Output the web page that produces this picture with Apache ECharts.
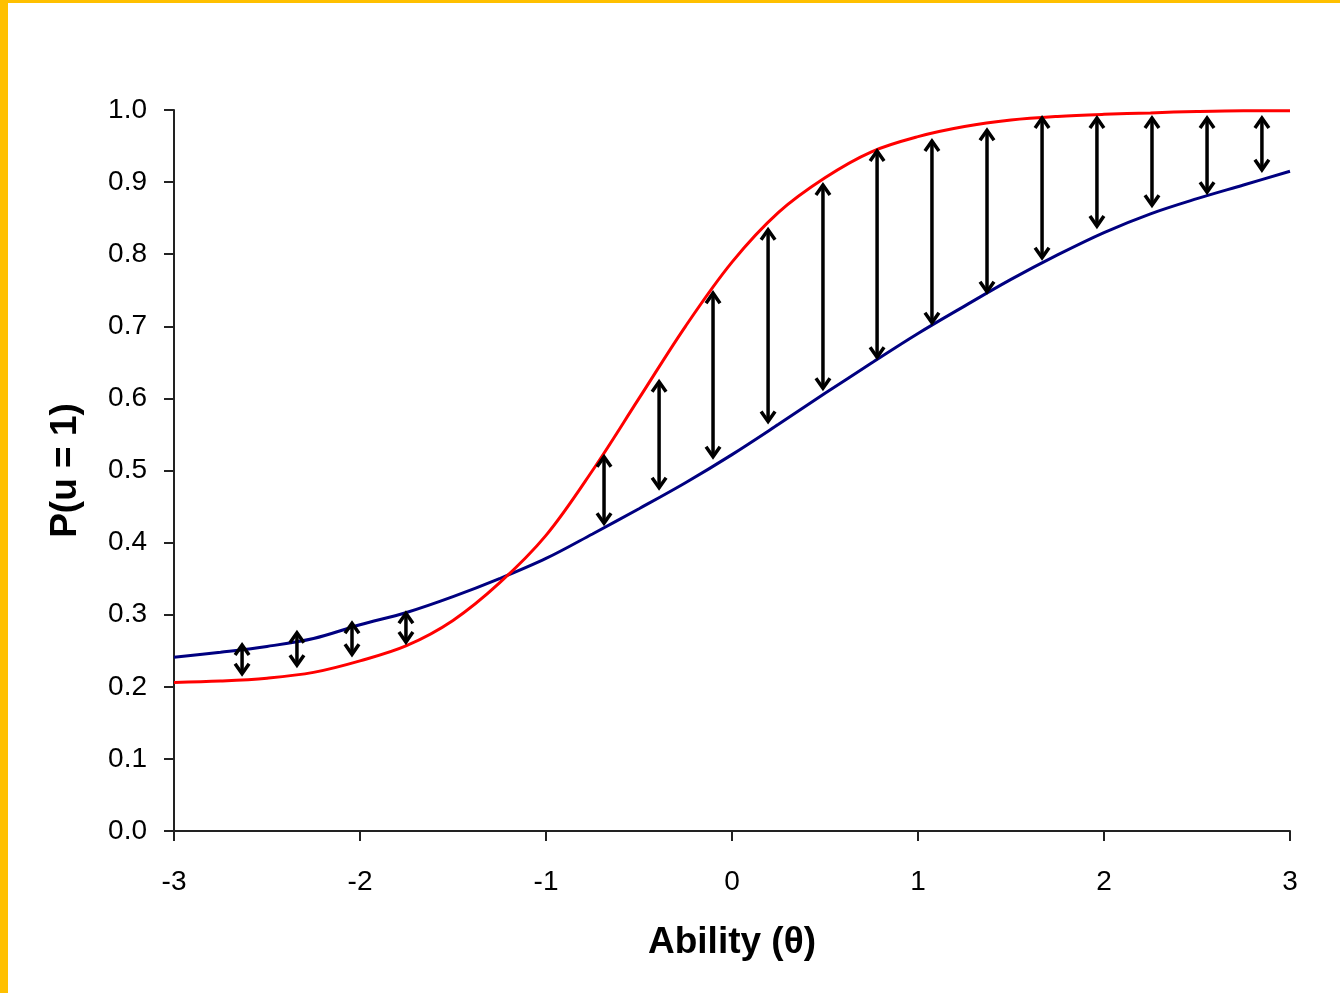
<!DOCTYPE html>
<html>
<head>
<meta charset="utf-8">
<script src="https://cdn.jsdelivr.net/npm/echarts@6/dist/echarts.min.js"></script>
<style>
  html, body { margin: 0; padding: 0; background: #fff; }
  #wrap { position: relative; width: 1340px; height: 993px; overflow: hidden; }
  #chart { position: absolute; left: 0; top: 0; width: 1340px; height: 993px; }
  #bl { position: absolute; left: 0; top: 0; width: 8px; height: 993px; background: #FFC000; }
  #bt { position: absolute; left: 0; top: 0; width: 1340px; height: 3px; background: #FFC000; }
</style>
</head>
<body>
<div id="wrap">
  <div id="chart"></div>
  <div id="bl"></div>
  <div id="bt"></div>
</div>
<script>
// Ability values (theta) at which the curves were read
var thetas = [-3, -2.75, -2.5, -2.25, -2, -1.75, -1.5, -1.25, -1, -0.75, -0.5, -0.25, 0,
              0.25, 0.5, 0.75, 1, 1.25, 1.5, 1.75, 2, 2.25, 2.5, 2.75, 3];
// Red item characteristic curve
var redCurve = [0.206, 0.208, 0.212, 0.220, 0.236, 0.257, 0.292, 0.344, 0.410, 0.500, 0.600, 0.700, 0.789,
                0.858, 0.906, 0.942, 0.963, 0.977, 0.986, 0.991, 0.994, 0.996, 0.998, 0.999, 0.999];
// Blue item characteristic curve
var blueCurve = [0.241, 0.248, 0.256, 0.267, 0.286, 0.303, 0.325, 0.350, 0.378, 0.412, 0.447, 0.483, 0.522,
                 0.564, 0.607, 0.649, 0.690, 0.728, 0.765, 0.799, 0.830, 0.856, 0.877, 0.896, 0.915];
// Double-headed arrows: position, upper end, lower end
var arrowX      = [-2.634, -2.339, -2.043, -1.753, -0.688, -0.392, -0.102, 0.194, 0.489, 0.780, 1.075, 1.371, 1.667, 1.962, 2.258, 2.554, 2.849];
var arrowTop    = [0.258, 0.275, 0.288, 0.302, 0.519, 0.623, 0.746, 0.834, 0.896, 0.943, 0.957, 0.972, 0.989, 0.989, 0.989, 0.989, 0.989];
var arrowBottom = [0.218, 0.230, 0.245, 0.262, 0.427, 0.476, 0.519, 0.568, 0.614, 0.657, 0.705, 0.748, 0.795, 0.839, 0.868, 0.886, 0.917];
// Axis text
var xTitle = 'Ability (θ)';
var yTitle = 'P(u = 1)';

var FONT = '"Liberation Sans", Arial, Helvetica, sans-serif';

function pairs(xs, ys) { return xs.map(function (x, i) { return [x, ys[i]]; }); }

var chart = echarts.init(document.getElementById('chart'), null, { renderer: 'canvas' });
chart.setOption({
  backgroundColor: '#ffffff',
  animation: false,
  grid: { left: 174, right: 50, top: 110, bottom: 162 },
  xAxis: {
    type: 'value', min: -3, max: 3, interval: 1,
    name: xTitle, nameLocation: 'middle', nameGap: 93,
    nameTextStyle: { fontFamily: FONT, fontSize: 37, fontWeight: 'bold', color: '#000' },
    axisLine: { onZero: false, lineStyle: { color: '#222', width: 2 } },
    axisTick: { show: true, length: 10, lineStyle: { color: '#222', width: 2 } },
    axisLabel: { margin: 37, fontFamily: FONT, fontSize: 28, color: '#000',
      formatter: function (v) { return String(v); } },
    splitLine: { show: false }
  },
  yAxis: {
    type: 'value', min: 0, max: 1, interval: 0.1,
    name: yTitle, nameLocation: 'middle', nameGap: 90, nameRotate: 90,
    nameTextStyle: { fontFamily: FONT, fontSize: 37, fontWeight: 'bold', color: '#000' },
    axisLine: { show: true, onZero: false, lineStyle: { color: '#222', width: 2 } },
    axisTick: { show: true, length: 10, lineStyle: { color: '#222', width: 2 } },
    axisLabel: { margin: 27, fontFamily: FONT, fontSize: 28, color: '#000',
      formatter: function (v) { return v.toFixed(1); } },
    splitLine: { show: false }
  },
  series: [
    {
      type: 'line', data: pairs(thetas, blueCurve), smooth: 0.35, showSymbol: false,
      lineStyle: { color: '#000080', width: 3 }, z: 2
    },
    {
      type: 'line', data: pairs(thetas, redCurve), smooth: 0.35, showSymbol: false,
      lineStyle: { color: '#FF0000', width: 3 }, z: 3
    },
    {
      type: 'custom', z: 4,
      data: arrowX.map(function (x, i) { return [x, arrowTop[i], arrowBottom[i]]; }),
      encode: { x: 0, y: [1, 2] },
      renderItem: function (params, api) {
        var x = api.value(0), t = api.value(1), b = api.value(2);
        var p1 = api.coord([x, t]), p2 = api.coord([x, b]);
        var hw = 7, hh = 10;
        var st = { stroke: '#000', fill: null, lineWidth: 3.5, lineJoin: 'miter' };
        return {
          type: 'group',
          children: [
            { type: 'line', shape: { x1: p1[0], y1: p1[1] + 1, x2: p2[0], y2: p2[1] - 1 }, style: st },
            { type: 'polyline', shape: { points: [[p1[0] - hw, p1[1] + hh], [p1[0], p1[1]], [p1[0] + hw, p1[1] + hh]] }, style: st },
            { type: 'polyline', shape: { points: [[p2[0] - hw, p2[1] - hh], [p2[0], p2[1]], [p2[0] + hw, p2[1] - hh]] }, style: st }
          ]
        };
      }
    }
  ]
});
</script>
</body>
</html>
